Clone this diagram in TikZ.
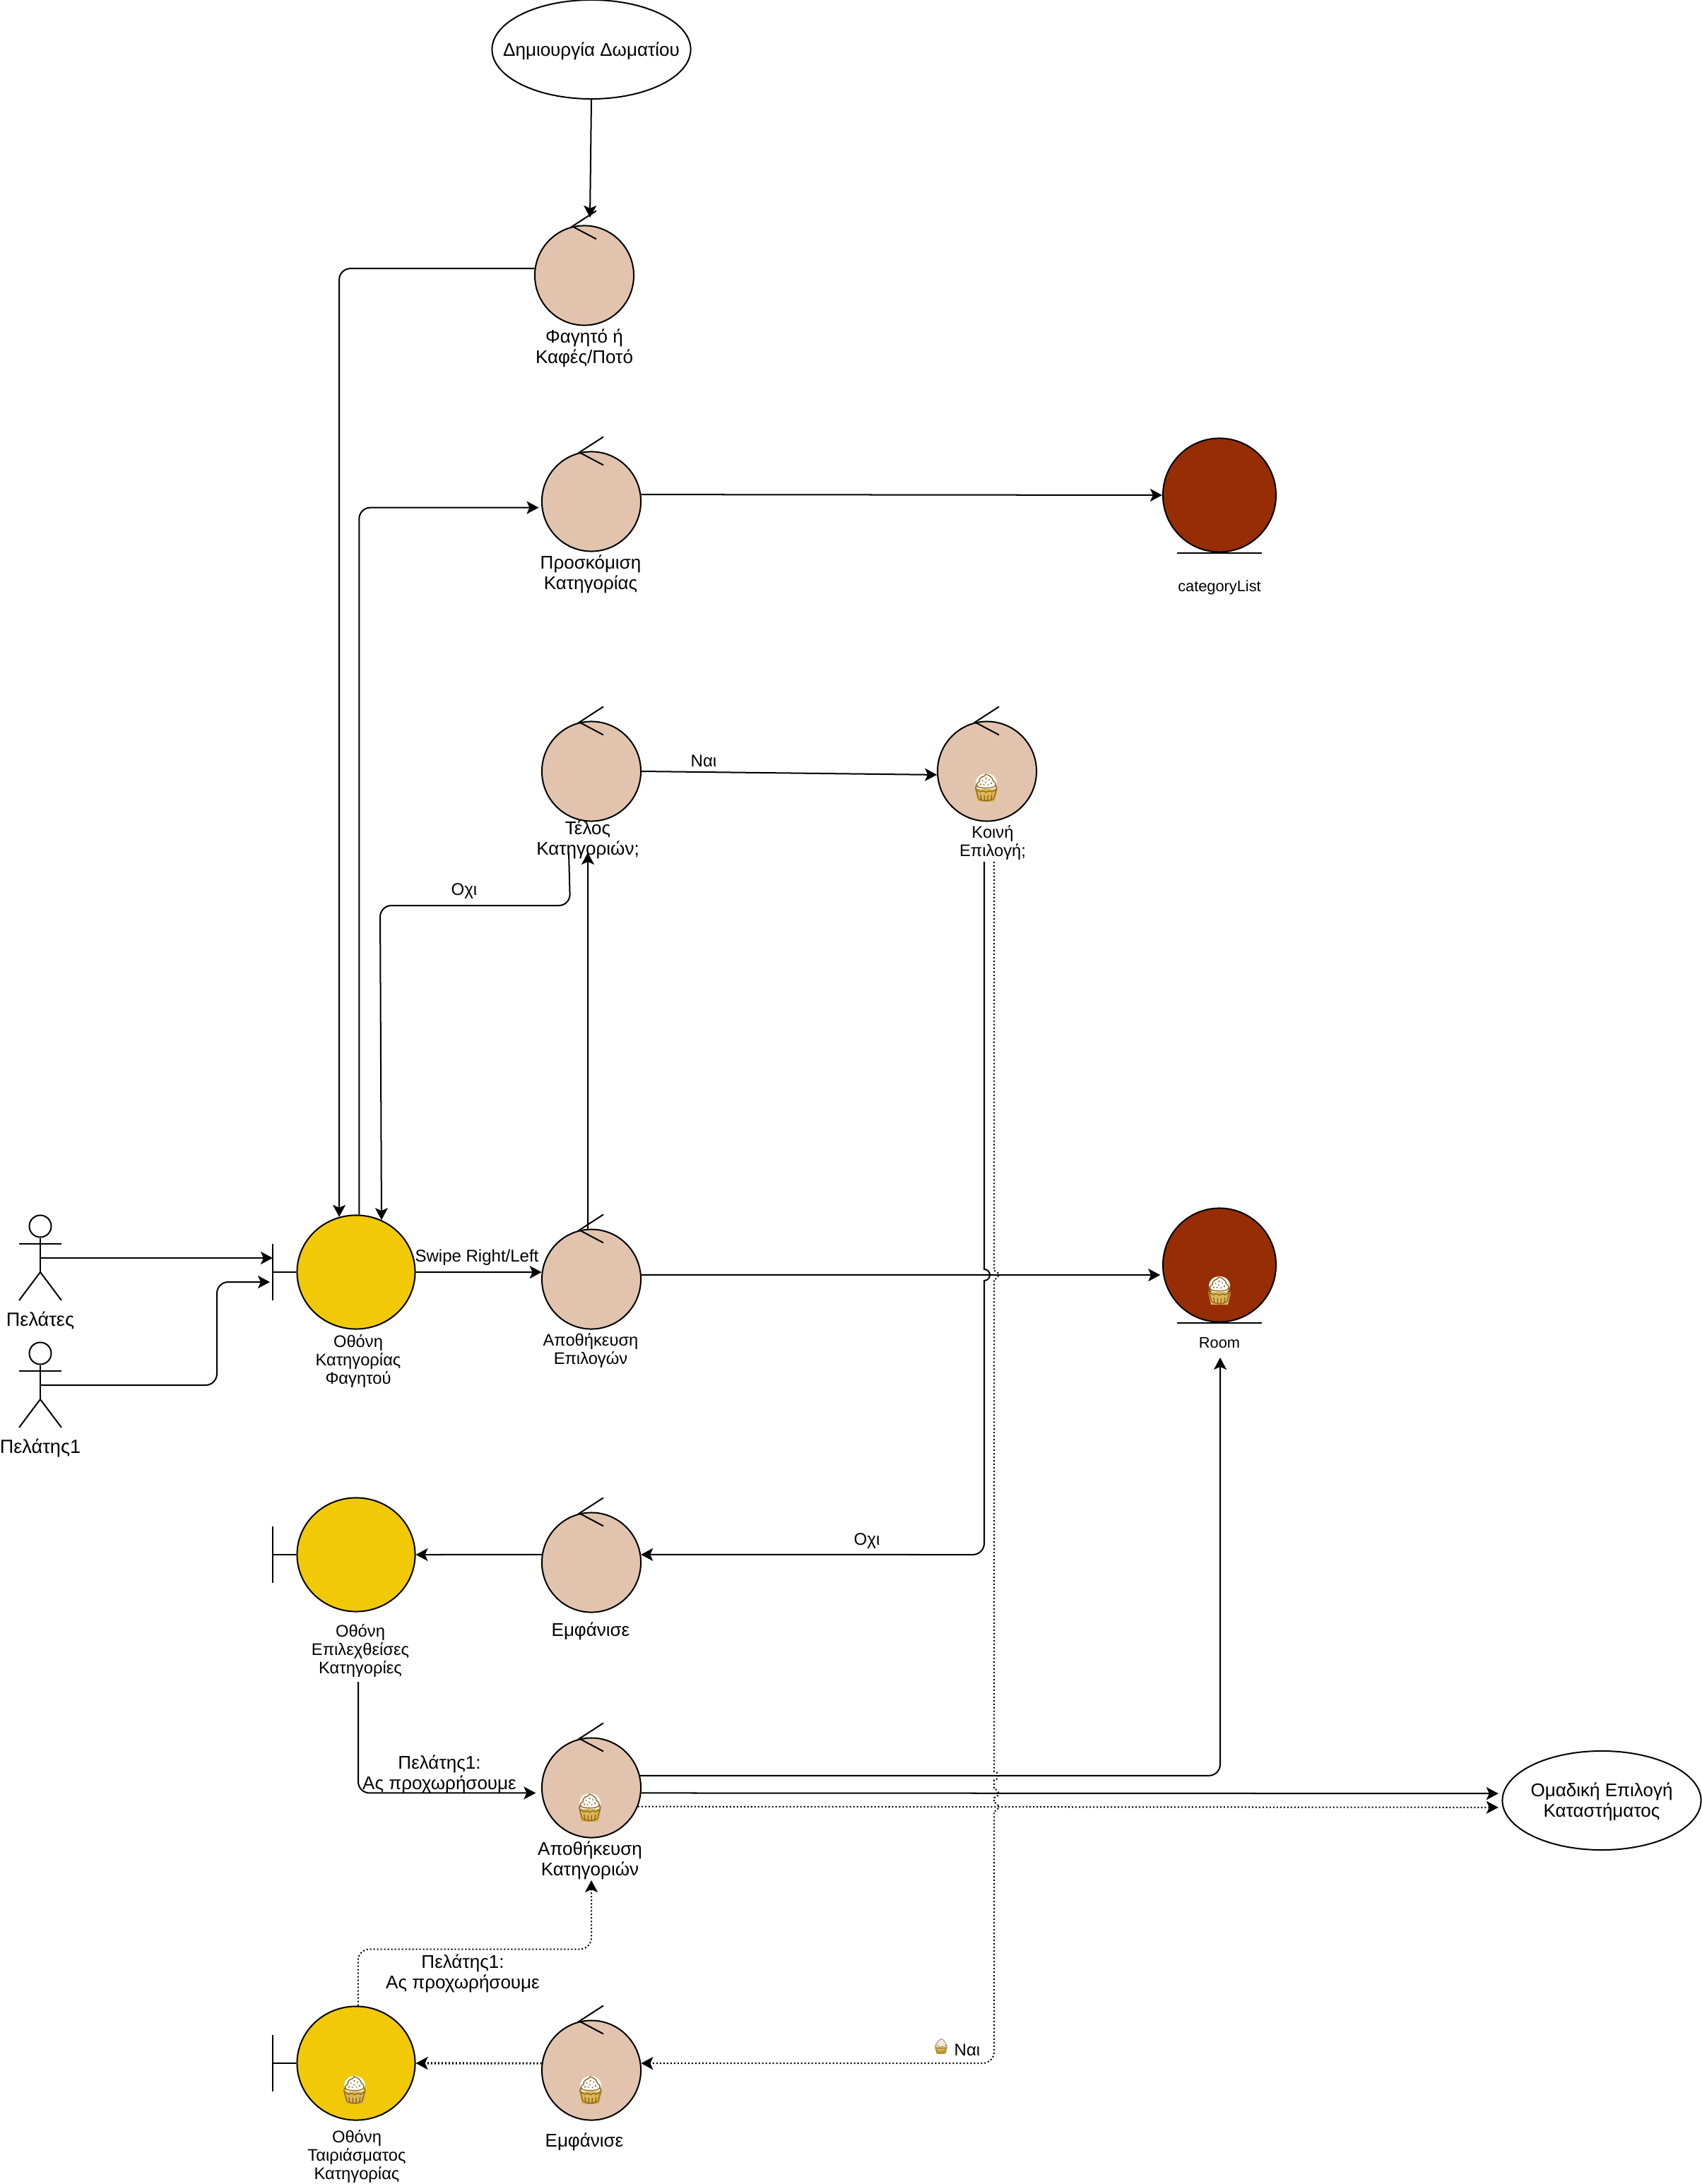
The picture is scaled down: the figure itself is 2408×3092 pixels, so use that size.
\documentclass[tikz,border=0pt]{standalone}
\usepackage{fontspec}
\setmainfont{Liberation Sans}
\newfontfamily\emojifont{Noto Emoji}
\usetikzlibrary{arrows.meta,shapes.geometric}
\definecolor{ctrlfill}{HTML}{E2C4AE}
\definecolor{scrfill}{HTML}{F1C907}
\definecolor{entfill}{HTML}{962D05}
\definecolor{cakecol}{HTML}{8A6418}
\definecolor{cupcol}{HTML}{DDB655}
\tikzset{
  lbl/.style={inner sep=0pt,yshift=-.02cm,align=center,font=\fontsize{6.83}{8.25}\selectfont},
  lblg/.style={lbl,font=\fontsize{7.4}{8.25}\selectfont},
  lbls/.style={inner sep=0pt,yshift=-.02cm,align=center,font=\fontsize{6.2}{7.4}\selectfont},
  lblsg/.style={lbls,font=\fontsize{6.75}{7.4}\selectfont},
  ctrl/.style={ellipse,draw,line width=.57pt,fill=ctrlfill,inner sep=0pt,minimum width=1.4cm,minimum height=1.41cm},
  scr/.style={ellipse,draw,line width=.57pt,fill=scrfill,inner sep=0pt,minimum width=1.67cm,minimum height=1.61cm},
  ent/.style={ellipse,draw,line width=.57pt,fill=entfill,inner sep=0pt,minimum width=1.6cm,minimum height=1.61cm},
  uc/.style={ellipse,draw,line width=.57pt,inner sep=0pt,minimum width=2.81cm,minimum height=1.4cm},
  conn/.style={line width=.57pt,rounded corners=.16cm,-{Stealth[length=.17cm,width=.18cm,inset=.04cm]}},
  dotconn/.style={conn,dash pattern=on .57pt off .85pt},
  thin line/.style={line width=.57pt}
}
\begin{document}
\begin{tikzpicture}[x=.01cm,y=-.01cm]
\useasboundingbox (0,0) rectangle (2408,3092);

\node[uc,label={[lblg]center:Δημιουργία Δωματίου}] (ucroom) at (837,70) {};
\node[uc,label={[lblg]center:Ομαδική Επιλογή\\Καταστήματος}] (ucstore) at (2267,2549) {};

\node[ctrl] (ctrlfood) at (827,390) {};
\node[ctrl] (ctrlcat) at (837,710) {};
\node[ctrl] (ctrlend) at (837,1092) {};
\node[ctrl] (ctrlshare) at (1397,1092) {};
\node[ctrl] (ctrlsave) at (837,1811) {};
\node[ctrl] (ctrlshow) at (837,2212) {};
\node[ctrl] (ctrlstore) at (837,2531) {};
\node[ctrl] (ctrlmatch) at (837,2931) {};

\node[scr] (scrcat) at (504,1801) {};
\node[scr] (scrsel) at (504,2201) {};
\node[scr] (scrmatch) at (504,2921) {};

\node[ent] (entcat) at (1726,701) {};
\node[ent] (entroom) at (1726,1791) {};

\foreach \c in {ctrlfood,ctrlcat,ctrlend,ctrlshare,ctrlsave,ctrlshow,ctrlstore,ctrlmatch}
  \draw[thin line] ([shift={(17,-20)}]\c.north)--([shift={(-17,2)}]\c.north)--([shift={(17,20)}]\c.north);
\foreach \b in {scrcat,scrsel,scrmatch}{
  \draw[thin line] ([shift={(-33,-40)}]\b.west)--([shift={(-33,40)}]\b.west);
  \draw[thin line] ([shift={(-33,0)}]\b.west)--(\b.west);
}
\foreach \e in {entcat,entroom}
  \draw[thin line] ([shift={(-60,0)}]\e.south)--([shift={(60,0)}]\e.south);

\foreach \n/\y/\t in {custa/1736/Πελάτες,custb/1916/Πελάτης1}{
  \node[circle,draw,line width=.57pt,inner sep=0pt,minimum size=.31cm] (\n) at (57,\y) {};
  \draw[thin line] (\n.south)--(57,\y+65);
  \draw[thin line] (27,\y+25)--(87,\y+25);
  \draw[thin line] (27,\y+105)--(57,\y+65)--(87,\y+105);
  \coordinate (\n body) at (57,\y+45);
  \node[lblg,font=\fontsize{7.7}{8.25}\selectfont] (\n lbl) at (57,\y+132) {\t};
}

\node[lblg] (lblfood) at (827,491) {Φαγητό ή\\Καφές/Ποτό};
\node[lblg] (lblcat) at (836,811) {Προσκόμιση\\Κατηγορίας};
\node[lbls] (lblentcat) at (1726,830) {categoryList};
\node[lblg] (lblend) at (832,1187) {Τέλος\\Κατηγοριών;};
\node[lblsg] (lblshare) at (1405,1191) {Κοινή\\Επιλογή;};
\node[lblsg] (lblsave) at (836,1910) {Αποθήκευση\\Επιλογών};
\node[lblsg] (lblscrcat) at (507,1925) {Οθόνη\\Κατηγορίας\\Φαγητού};
\node[lbls] (lblroom) at (1726,1899) {Room};
\node[lblg] (lblshow) at (836,2307) {Εμφάνισε};
\node[lblsg] (lblsel) at (510,2335) {Οθόνη\\Επιλεχθείσες\\Κατηγορίες};
\node[lblg] (lblstore) at (835,2632) {Αποθήκευση\\Κατηγοριών};
\node[lblsg] (lblmatch) at (505,3051) {Οθόνη\\Ταιριάσματος\\Κατηγορίας};
\node[lblg] (lblmatchshow) at (827,3030) {Εμφάνισε};

\node[lbl] (txtyes) at (996,1075) {Ναι};
\node[lbl] (txtnoa) at (657,1260) {Οχι};
\node[lbl] (txtswipe) at (675,1778) {Swipe Right/Left};
\node[lbl] (txtnob) at (1227,2180) {Οχι};
\node[lblg] (txtgoa) at (622,2510) {Πελάτης1:\\Ας προχωρήσουμε};
\node[lblg] (txtgob) at (655,2792) {Πελάτης1:\\Ας προχωρήσουμε};
\node[lbl] (txtyesb) at (1369,2900) {Ναι};

\foreach \n/\x/\y/\s in {cakeshare/1396/1115/11,cakeroom/1726/1827/11,cakestore/835/2559/11,cakescr/502/2959/11,cakeshow/836/2959/11,cakeyes/1332/2897/6}{
  \fill[white,shift={(\x,\y)},scale=\s/11] (0,-7) ellipse[x radius=15,y radius=13];
  \fill[cupcol,shift={(\x,\y)},scale=\s/11] (-16,2)--(16,2)--(12,20)--(-12,20)--cycle;
  \node[inner sep=0pt,text=cakecol,font=\fontsize{\s}{\s}\emojifont] (\n) at (\x,\y) {🧁};
}

\coordinate (tipfood) at (835,308);
\coordinate (barcata) at (386,1781);
\coordinate (barcatb) at (382,1815);
\coordinate (noend) at (805,1207);
\coordinate (tipend) at (832,1207);
\coordinate (noshare) at (1393,1220);
\coordinate (yesshare) at (1407,1220);
\coordinate (nosel) at (507,2381);
\coordinate (tiproom) at (1727,1922);
\coordinate (tipstore) at (837,2662);

\draw[conn] (ucroom.south)--(tipfood);
\draw[conn] (ctrlfood.172)-|(scrcat.107);
\draw[conn,shorten >=.04cm] (scrcat.87)|-(ctrlcat.187);
\draw[conn] (ctrlcat.8)--(entcat.west);
\draw[conn] (ctrlend.0)--(ctrlshare.184);
\draw[conn] (noend)--(807,1282)--(538,1282)--(scrcat.64);
\draw[conn] (ctrlsave.94)--(tipend);
\draw[conn] (custabody)--(barcata);
\draw[conn] (custbbody)--(307,1961)--(307,1815)--(barcatb);
\draw[conn] (scrcat.east)--(ctrlsave.172);
\draw[conn,shorten >=.04cm] (ctrlsave.5)--(entroom.190);
\draw[conn,sharp corners] (noshare)--(1393,1797) arc[start angle=-90,end angle=90,radius=8]--(1393,2100) [rounded corners=.16cm]--(1393,2201)--(ctrlshow.9);
\draw[conn] (ctrlshow.171)--(scrsel.east);
\draw[conn,shorten >=.08cm] (nosel)|-(ctrlstore.186);
\draw[conn] (ctrlstore.14)-|(tiproom);
\draw[conn,shorten >=.06cm] (ctrlstore.-6)--(ucstore.176);
\draw[dotconn,shorten >=.06cm] (ctrlstore.-22)--(ucstore.184);
\draw[dotconn,sharp corners] (yesshare)--(1407,1799) arc[start angle=-90,end angle=90,radius=6]--(1407,2508) arc[start angle=-90,end angle=90,radius=6]--(1407,2533) arc[start angle=-90,end angle=90,radius=6]--(1407,2552) arc[start angle=-90,end angle=90,radius=6]--(1407,2800) [rounded corners=.16cm]--(1407,2921)--(ctrlmatch.8);
\draw[dotconn] (scrmatch.88)--++(0,-80)-|(tipstore);
\draw[dotconn,line width=.9pt] (ctrlmatch.172)--(scrmatch.east);
\end{tikzpicture}
\end{document}
